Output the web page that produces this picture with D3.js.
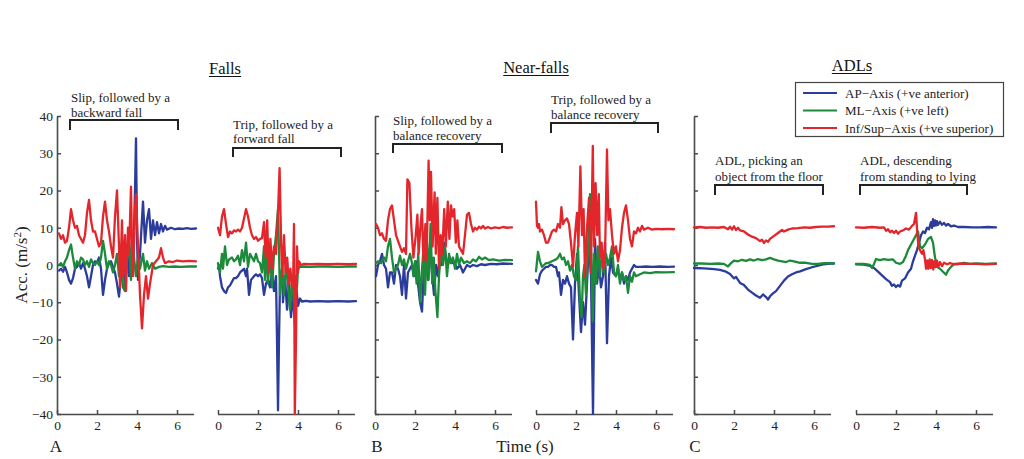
<!DOCTYPE html>
<html><head><meta charset="utf-8">
<script src="https://cdn.jsdelivr.net/npm/d3@7"></script>
<style>
body{margin:0;background:#fff;}
svg{display:block;}
text{font-family:"Liberation Serif","Times New Roman",serif;}
</style>
</head><body>
<svg id="c" width="1024" height="459"></svg>
<script>
// ---------- DATA ----------
const groupTitles = ["Falls", "Near-falls", "ADLs"];
const panelLetters = ["A", "B", "C"];
const seriesNames = ["AP\u2212Axis (+ve anterior)", "ML\u2212Axis (+ve left)", "Inf/Sup\u2212Axis (+ve superior)"];
const xTicks = [0, 2, 4, 6];
const yTicks = [-40, -30, -20, -10, 0, 10, 20, 30, 40];
const annotations = [
  ["Slip, followed by a", "backward fall"],
  ["Trip, followed by a", "forward fall"],
  ["Slip, followed by a", "balance recovery"],
  ["Trip, followed by a", "balance recovery"],
  ["ADL, picking an", "object from the floor"],
  ["ADL, descending", "from standing to lying"]
];

// Falls: slip -> backward fall  [time s, acc m/s^2]
const slipFallAP = [[0.1,-1.5],[0.2,-1],[0.3,-1.8],[0.4,-0.5],[0.5,-2],[0.6,-4],[0.7,-5],[0.8,-3.5],[0.9,-1],[1.0,-0.5],[1.1,0.5],[1.2,-1],[1.3,0.5],[1.4,-1],[1.5,-3],[1.6,-6],[1.7,-3],[1.8,0],[1.9,1],[2.0,0.5],[2.1,2],[2.2,-1],[2.3,-8],[2.4,-4],[2.5,-1],[2.6,0.5],[2.7,1],[2.8,-0.5],[2.9,-2],[3.0,-5],[3.1,-8.5],[3.2,-3],[3.3,2],[3.4,-6],[3.5,5],[3.6,-3],[3.7,4],[3.8,-2],[3.9,20],[3.95,34],[4.0,8],[4.05,-4],[4.15,3],[4.3,17],[4.4,6],[4.5,12],[4.6,15],[4.7,7],[4.8,12],[4.9,8],[5.0,11.5],[5.1,8.5],[5.2,11],[5.3,9],[5.4,10.5],[5.5,9.5],[5.7,10],[5.9,9.6],[6.1,9.8],[6.3,9.7],[6.5,9.9],[6.7,9.7],[6.95,9.8]];
const slipFallML = [[0.1,0],[0.2,0.5],[0.3,-0.5],[0.4,1],[0.5,2],[0.6,4],[0.7,5.5],[0.8,2],[0.9,-1],[1.0,1],[1.1,0],[1.2,2],[1.3,1.5],[1.4,0],[1.5,1],[1.6,-0.5],[1.7,1.5],[1.8,0.5],[1.9,0],[2.0,1],[2.1,0],[2.2,2],[2.3,6.5],[2.4,3],[2.5,-1],[2.6,1],[2.7,0],[2.8,-2],[2.9,0],[3.0,3],[3.1,-3],[3.2,4],[3.3,-6],[3.4,-7],[3.5,2],[3.6,6],[3.7,-4],[3.75,8],[3.85,2],[3.95,-3],[4.05,2],[4.15,-1],[4.3,3],[4.4,-1.5],[4.5,1],[4.6,-1],[4.75,0.5],[4.9,-1],[5.1,-0.5],[5.3,-0.3],[5.6,-0.5],[5.9,-0.4],[6.2,-0.5],[6.6,-0.4],[6.95,-0.4]];
const slipFallIS = [[0.1,8.5],[0.2,7],[0.3,8],[0.4,6],[0.5,6.5],[0.6,10],[0.7,15],[0.8,12],[0.9,10],[1.0,10.5],[1.1,8],[1.2,7],[1.3,6],[1.4,8],[1.5,14],[1.6,17.5],[1.7,12],[1.8,9],[1.9,9],[2.0,7],[2.1,5],[2.2,6],[2.3,13],[2.4,17],[2.5,12],[2.6,9],[2.7,5],[2.8,2],[2.9,13],[3.0,20],[3.1,5],[3.15,-6],[3.25,12],[3.3,-3],[3.4,8],[3.45,-7],[3.55,10],[3.6,3],[3.7,21],[3.75,5],[3.8,-3],[3.9,15],[3.95,19],[4.05,5],[4.15,-8],[4.25,-17],[4.35,-8],[4.45,-3],[4.55,-9],[4.65,-5],[4.8,0],[4.95,1],[5.1,2],[5.2,4.5],[5.3,2],[5.4,0.5],[5.6,1],[5.8,0.8],[6.0,1.2],[6.3,1],[6.6,1.1],[6.95,1]];

// Falls: trip -> forward fall
const tripFallAP = [[0,-1],[0.05,0],[0.1,-3],[0.2,-6],[0.3,-7],[0.4,-7.5],[0.5,-6],[0.6,-5.5],[0.7,-4.5],[0.8,-3.5],[0.9,-3.5],[1.0,-3],[1.1,-2],[1.2,-1.5],[1.3,-1],[1.4,-3],[1.45,-1],[1.55,-8],[1.65,-4],[1.8,-3],[1.9,-2.5],[2.0,-3],[2.1,-2.5],[2.2,-3.5],[2.3,-8],[2.4,-5],[2.5,-4],[2.6,-6],[2.7,-2],[2.8,-7],[2.9,-3],[2.95,-20],[3.0,-39],[3.05,-20],[3.1,-5],[3.2,-1],[3.25,-10],[3.35,-3],[3.45,-12],[3.55,-5],[3.65,-14],[3.75,-8],[3.85,-16],[3.9,-5],[4.0,-11],[4.1,-9],[4.2,-9.8],[4.4,-9.6],[4.6,-9.8],[5.0,-9.7],[5.5,-9.8],[6.0,-9.7],[6.5,-9.8],[6.9,-9.7]];
const tripFallML = [[0,0.5],[0.1,-2],[0.2,3],[0.25,-1],[0.35,5],[0.45,0],[0.55,1.5],[0.7,2],[0.8,1],[0.9,1.5],[1.0,2.5],[1.1,0],[1.2,4],[1.3,1],[1.4,6],[1.5,-0.5],[1.6,3],[1.7,2],[1.8,1],[1.9,3],[2.0,1],[2.1,0.5],[2.2,-2],[2.3,5],[2.35,-4],[2.45,5],[2.5,-5],[2.6,4],[2.7,-6],[2.8,3],[2.9,8],[3.0,15],[3.1,-8],[3.2,-1],[3.3,-8],[3.4,0],[3.5,-5],[3.6,-12],[3.7,-4],[3.8,-10],[3.9,-3],[3.95,-6],[4.0,-1],[4.1,-0.5],[4.3,-0.4],[4.6,-0.5],[5.0,-0.4],[5.5,-0.4],[6.0,-0.5],[6.5,-0.4],[6.9,-0.4]];
const tripFallIS = [[0,10],[0.1,8],[0.2,13],[0.3,15],[0.4,11],[0.5,7.5],[0.6,9],[0.7,8.5],[0.8,9.3],[0.9,9],[1.0,9.5],[1.1,9],[1.2,10],[1.3,12.5],[1.4,15],[1.5,13],[1.6,10],[1.7,8],[1.8,7],[1.9,7.5],[2.0,6.5],[2.1,7],[2.2,7.2],[2.3,11.5],[2.38,2],[2.46,12],[2.54,-2],[2.62,7],[2.7,-1],[2.8,5],[2.9,3],[3.0,14],[3.08,26],[3.16,5],[3.22,-3],[3.3,8],[3.38,-2],[3.46,2],[3.54,-5],[3.62,-1],[3.7,-6],[3.76,-3],[3.8,11],[3.84,-40],[3.9,-20],[3.95,5],[4.0,-2],[4.05,1],[4.15,0],[4.3,0.3],[4.6,0.2],[5.0,0.3],[5.5,0.2],[6.0,0.3],[6.5,0.2],[6.9,0.3]];

// Near-falls: slip -> balance recovery
const slipNearAP = [[0.05,-3],[0.15,0],[0.25,1],[0.35,3],[0.45,0],[0.55,-1],[0.65,-6],[0.75,-2],[0.85,-2],[0.95,-5],[1.05,0],[1.15,-1],[1.25,-3],[1.35,-8],[1.45,0],[1.55,-9],[1.65,-2],[1.75,-1],[1.85,0],[1.95,-3],[2.05,1],[2.15,-5],[2.25,-10],[2.35,-12.5],[2.45,0],[2.55,3],[2.65,-4],[2.75,5],[2.85,-2],[2.95,-8],[3.05,0],[3.15,-3],[3.25,3],[3.35,0],[3.45,6],[3.55,2],[3.65,0],[3.75,2],[3.85,0.5],[3.95,1],[4.1,-1],[4.25,0],[4.4,-2],[4.5,-1],[4.6,0],[4.75,-0.5],[4.9,0],[5.1,-0.3],[5.3,0.2],[5.5,0],[5.8,0.3],[6.1,0.2],[6.4,0.4],[6.85,0.3]];
const slipNearML = [[0.05,0.5],[0.15,1],[0.3,0.5],[0.45,2],[0.55,1],[0.65,5],[0.75,7],[0.85,2],[0.95,-2],[1.05,-1],[1.15,0],[1.25,2.5],[1.35,0],[1.45,1.5],[1.55,-1],[1.65,1],[1.75,3],[1.85,0.5],[1.92,-3],[2.0,1],[2.08,-5],[2.16,3],[2.26,-10],[2.34,-2],[2.42,4],[2.5,-8],[2.6,6],[2.68,-4],[2.78,11],[2.86,-5],[2.94,2],[3.02,-7],[3.12,-14],[3.2,-3],[3.3,4],[3.4,0],[3.5,5],[3.6,-3],[3.7,3],[3.8,0.5],[3.9,2],[4.0,-1],[4.1,3],[4.2,0],[4.3,2],[4.45,0.5],[4.6,1],[4.75,0.5],[4.9,1.5],[5.05,1],[5.2,2.2],[5.35,1.5],[5.5,2],[5.7,1.3],[5.9,1.5],[6.2,1.2],[6.5,1.4],[6.85,1.3]];
const slipNearIS = [[0.05,11],[0.15,10],[0.25,8],[0.35,8.5],[0.45,7],[0.55,6.5],[0.65,12],[0.75,15],[0.85,16],[0.95,12],[1.05,8],[1.15,6.5],[1.25,5],[1.35,3.5],[1.45,4.5],[1.55,3],[1.62,23],[1.72,22],[1.82,10],[1.92,2],[2.02,7],[2.12,13.5],[2.18,3],[2.28,11],[2.35,15],[2.42,1],[2.52,11],[2.58,1],[2.68,28],[2.74,12],[2.8,25],[2.88,5],[2.98,19.5],[3.04,3],[3.12,18],[3.2,-1],[3.28,8],[3.36,3],[3.46,15],[3.54,5],[3.64,17],[3.72,7],[3.8,16],[3.88,13],[3.96,15],[4.04,6],[4.12,12],[4.2,5],[4.3,4],[4.4,3],[4.5,8],[4.6,13.5],[4.7,14],[4.8,11],[4.9,9],[5.0,10],[5.1,9.5],[5.2,10.3],[5.3,9.8],[5.4,10.5],[5.5,9.8],[5.65,10.2],[5.8,9.8],[6.0,10.1],[6.2,9.9],[6.4,10.2],[6.6,10],[6.85,10.1]];

// Near-falls: trip -> balance recovery
const tripNearAP = [[0.0,-4],[0.1,-5],[0.2,-2.5],[0.3,-1.5],[0.4,-1],[0.5,-0.5],[0.6,-0.5],[0.7,0],[0.8,0],[0.9,-0.5],[1.0,-0.5],[1.1,-3],[1.15,-2],[1.25,-8],[1.35,-4],[1.45,-5],[1.55,-3],[1.65,-5],[1.75,-6],[1.85,-20],[1.95,-5],[2.05,3],[2.15,-8],[2.25,-18],[2.35,-10],[2.45,-16],[2.55,-5],[2.65,6],[2.75,-3],[2.85,-40],[2.95,7],[3.05,-5],[3.15,0],[3.25,-6],[3.35,-3],[3.45,6],[3.55,-21],[3.65,-3],[3.75,2],[3.85,-2],[4.0,-3],[4.1,-1],[4.2,-4],[4.3,-2],[4.4,-5],[4.5,-3],[4.6,-4],[4.7,-2],[4.8,-1],[4.9,0],[5.0,-0.5],[5.2,-0.5],[5.5,-0.4],[5.8,-0.5],[6.2,-0.4],[6.6,-0.5],[6.9,-0.45]];
const tripNearML = [[0.0,-1.7],[0.1,3.5],[0.2,1],[0.3,-0.5],[0.4,0],[0.5,0.5],[0.6,0.5],[0.8,1],[1.0,1.5],[1.1,2],[1.2,3],[1.3,1.5],[1.4,2],[1.5,0],[1.6,1],[1.7,-1.5],[1.8,0],[1.9,-3],[2.0,-4],[2.1,5],[2.2,-10],[2.28,-14],[2.35,-3],[2.42,0],[2.5,-8],[2.6,4],[2.7,19],[2.78,-2],[2.84,-15],[2.9,3],[3.0,-5],[3.1,5],[3.2,-3],[3.3,4],[3.4,-2],[3.5,3],[3.6,0],[3.7,2],[3.8,5],[3.9,-2],[4.0,-3],[4.1,0],[4.2,-5],[4.3,-2],[4.4,-4],[4.5,-3],[4.6,-7.5],[4.7,-3],[4.8,-4.5],[4.9,-2],[5.0,-3],[5.2,-2.5],[5.4,-2],[5.7,-2.2],[6.0,-1.9],[6.4,-2],[6.9,-1.9]];
const tripNearIS = [[0.0,17],[0.05,10.5],[0.1,10],[0.15,11],[0.2,9],[0.3,9.5],[0.4,8],[0.5,6],[0.6,6],[0.7,7.5],[0.8,9],[0.9,9.5],[1.0,9],[1.1,11],[1.2,10],[1.27,15.5],[1.35,11],[1.45,12],[1.55,12.5],[1.65,11],[1.75,6],[1.85,-0.5],[1.95,8],[2.05,14],[2.12,5],[2.22,26.5],[2.3,8],[2.38,15],[2.45,-3],[2.55,10],[2.65,18],[2.74,-2],[2.84,32],[2.9,5],[2.98,22],[3.06,8],[3.14,19],[3.2,2],[3.28,6],[3.36,-1],[3.45,2],[3.55,31],[3.62,12],[3.7,15],[3.8,8],[3.9,3],[4.0,5],[4.1,1],[4.2,4],[4.3,10],[4.4,14],[4.5,16],[4.6,12],[4.7,7],[4.8,5],[4.9,9],[5.0,8.5],[5.1,10],[5.2,9],[5.3,10.5],[5.4,9.5],[5.6,10],[5.8,9.5],[6.0,9.7],[6.3,9.6],[6.6,9.7],[6.9,9.6]];

// ADL: picking an object from the floor
const pickAP = [[0,-0.8],[0.5,-0.9],[1.0,-1.1],[1.3,-1.3],[1.6,-1.8],[1.8,-2.4],[2.0,-3.6],[2.1,-3.2],[2.3,-4.8],[2.5,-5.4],[2.7,-6.6],[2.9,-7.4],[3.1,-8.2],[3.3,-8.8],[3.45,-7.9],[3.6,-8.6],[3.7,-9.3],[3.8,-8.4],[3.95,-7.6],[4.1,-7],[4.3,-5.6],[4.5,-4.2],[4.7,-3.1],[4.9,-2.5],[5.1,-2],[5.3,-1.7],[5.6,-1.1],[5.9,-0.6],[6.2,-0.2],[6.5,0.2],[6.8,0.4],[7.0,0.4]];
const pickML = [[0,0.4],[0.4,0.4],[0.8,0.3],[1.2,0.4],[1.5,0.3],[1.7,-0.4],[1.85,0.5],[2.0,1.2],[2.2,1.0],[2.4,1.4],[2.6,1.1],[2.8,1.5],[3.0,1.2],[3.2,1.6],[3.4,1.3],[3.6,1.5],[3.8,1.9],[4.0,1.5],[4.2,1.2],[4.4,1.0],[4.6,0.8],[4.8,1.2],[5.0,1.0],[5.3,0.6],[5.6,0.6],[5.9,0.3],[6.2,0.3],[6.5,0.5],[7.0,0.4]];
const pickIS = [[0,10.1],[0.3,10.2],[0.6,10],[0.9,10.1],[1.2,10],[1.5,10.2],[1.7,9.6],[1.8,10.3],[1.9,9.5],[2.0,10.4],[2.1,9.4],[2.2,10],[2.3,9.3],[2.5,9],[2.7,8.2],[2.9,7.6],[3.1,7.2],[3.3,6.4],[3.4,6.8],[3.5,5.9],[3.6,6.6],[3.7,6.2],[3.8,7],[4.0,7.8],[4.2,8.6],[4.4,9.4],[4.5,9],[4.7,9.5],[4.9,9.8],[5.2,9.9],[5.5,10.1],[5.8,10],[6.1,10.2],[6.4,10.3],[6.7,10.3],[7.0,10.4]];

// ADL: descending from standing to lying
const lyingAP = [[0,0.2],[0.4,0.1],[0.7,-0.2],[0.9,-0.8],[1.1,-1.8],[1.3,-2.8],[1.5,-3.8],[1.7,-4.6],[1.8,-5.6],[1.9,-5.2],[2.0,-5.9],[2.1,-5.4],[2.2,-5.8],[2.3,-4.2],[2.45,-3.6],[2.6,-2],[2.75,-1],[2.85,1],[2.95,2.5],[3.05,4],[3.15,6],[3.25,8],[3.35,9],[3.45,8.6],[3.55,10],[3.65,9.6],[3.75,11.5],[3.8,10],[3.85,12.3],[3.9,10.5],[3.95,12],[4.0,10.6],[4.05,11.8],[4.1,10.8],[4.2,11.6],[4.3,10.8],[4.4,11.3],[4.5,10.6],[4.6,11],[4.75,10.4],[4.9,10.6],[5.1,10.2],[5.4,10.2],[5.8,10.1],[6.2,10.1],[6.6,10.2],[7.0,10.1]];
const lyingML = [[0,0.3],[0.4,0.3],[0.7,0],[0.8,-0.8],[0.9,0.3],[1.0,1.6],[1.2,1.3],[1.4,1.6],[1.6,1.4],[1.85,1.5],[2.0,0.6],[2.2,0.3],[2.35,0.8],[2.5,2.5],[2.6,4],[2.75,5.5],[2.9,7],[3.0,8],[3.1,9],[3.2,5],[3.3,4.5],[3.45,5.5],[3.6,7],[3.75,7.5],[3.85,6],[3.95,2],[4.05,-0.5],[4.2,-1],[4.35,-1.8],[4.5,-2.6],[4.6,-1.5],[4.75,-0.5],[4.9,0.3],[5.1,0.2],[5.4,0.6],[5.7,0.3],[6.0,0.4],[6.5,0.3],[7.0,0.4]];
const lyingIS = [[0,10.1],[0.4,10],[0.8,10.2],[1.2,10],[1.4,10.1],[1.5,9.2],[1.6,9.6],[1.7,8.8],[1.8,9.2],[1.9,8.6],[2.0,9.2],[2.1,8.4],[2.2,9],[2.35,9.3],[2.5,9.8],[2.65,9.5],[2.8,10.5],[2.9,11],[3.0,14],[3.06,9],[3.12,5],[3.2,4],[3.3,3],[3.37,4],[3.45,1.5],[3.5,-1],[3.56,1.2],[3.62,-1],[3.68,1.5],[3.74,-0.8],[3.8,1.4],[3.86,-1.2],[3.92,1],[3.98,-0.6],[4.05,1.2],[4.12,-0.5],[4.2,0.8],[4.3,-0.3],[4.4,0.6],[4.55,0.2],[4.7,0.5],[4.9,0.2],[5.2,0.4],[5.6,0.3],[6.0,0.3],[6.5,0.2],[7.0,0.3]];

const panelSeries = [
  [slipFallAP, slipFallML, slipFallIS],
  [tripFallAP, tripFallML, tripFallIS],
  [slipNearAP, slipNearML, slipNearIS],
  [tripNearAP, tripNearML, tripNearIS],
  [pickAP, pickML, pickIS],
  [lyingAP, lyingML, lyingIS]
];

// ---------- LAYOUT ----------
const colors = ["#2b3c9b", "#1d8a3b", "#e3262b"];
const serif = "'Liberation Serif','Times New Roman',serif";
const panelLeft = [57, 218, 375, 536, 694, 856];
const panelW = 140;
const axisEnd = 6.85;
const y = d3.scaleLinear().domain([-40, 40]).range([414, 116]);
const fmt = d => d < 0 ? "\u2212" + Math.abs(d) : String(d);
const axisColor = "#4a4a4a";

// annotation layout: [bracket start t, end t, bracket top px, leg bottom px, text x px, first baseline px, line gap px]
const annLayout = [
  [0.65, 6.05, 120, 130, 71, 101.5, 15],
  [0.75, 6.15, 148, 157, 233, 128.5, 14.5],
  [0.9, 6.35, 144, 153, 393, 124.5, 15],
  [0.75, 6.1, 123, 133, 551, 103.5, 15],
  [1.05, 6.45, 185, 195, 715, 164.5, 16.5],
  [0.2, 5.55, 185, 195, 860, 164.5, 16.5]
];

const svg = d3.select("#c");
svg.append("rect").attr("width", 1024).attr("height", 459).attr("fill", "#fff");

panelSeries.forEach((series, i) => {
  const x = d3.scaleLinear().domain([0, 7]).range([panelLeft[i], panelLeft[i] + panelW]);

  // x axis
  const gx = svg.append("g")
    .attr("transform", `translate(0,${y(-40)})`)
    .call(d3.axisBottom(x).tickValues(xTicks).tickSize(-4).tickSizeOuter(0).tickPadding(6).tickFormat(fmt));
  gx.select(".domain").remove();
  gx.attr("font-family", serif).attr("font-size", 13.5).style("color", axisColor);
  gx.selectAll(".tick line").attr("stroke-width", 1.5);
  gx.selectAll("text").attr("fill", "#222");
  gx.append("line").attr("x1", x(0)).attr("x2", x(axisEnd)).attr("y1", 0.5).attr("y2", 0.5)
    .attr("stroke", axisColor).attr("stroke-width", 1.6);

  // y axis on first panel of each group
  if (i % 2 === 0) {
    const gy = svg.append("g")
      .attr("transform", `translate(${x(0)},0)`)
      .call(d3.axisLeft(y).tickValues(yTicks).tickSize(-4).tickSizeOuter(0).tickPadding(4)
        .tickFormat(i === 0 ? fmt : () => ""));
    gy.attr("font-family", serif).attr("font-size", 13.5).style("color", axisColor);
    gy.select(".domain").attr("stroke-width", 1.6);
    gy.selectAll(".tick line").attr("stroke-width", 1.5);
    gy.selectAll("text").attr("fill", "#222");
  }

  // lines
  const line = d3.line().x(d => x(d[0])).y(d => y(d[1]));
  series.forEach((s, k) => {
    svg.append("path").datum(s).attr("d", line)
      .attr("fill", "none").attr("stroke", colors[k]).attr("stroke-width", 2.3)
      .attr("stroke-linejoin", "round").attr("stroke-linecap", "round");
  });

  // annotation bracket + text
  const [t0, t1, by, bl, tx, tb, gap] = annLayout[i];
  svg.append("path")
    .attr("d", `M${x(t0)},${bl}V${by}H${x(t1)}V${bl}`)
    .attr("fill", "none").attr("stroke", "#222").attr("stroke-width", 2);
  annotations[i].forEach((ln, j) => {
    svg.append("text").attr("x", tx).attr("y", tb + j * gap)
      .attr("font-size", 13).attr("fill", "#222").text(ln);
  });
});

// group titles (underlined)
const titlePos = [[225, 74], [536, 73], [852, 71]];
groupTitles.forEach((t, i) => {
  const tt = svg.append("text").attr("x", titlePos[i][0]).attr("y", titlePos[i][1])
    .attr("text-anchor", "middle").attr("font-size", 16.5).attr("fill", "#111").text(t);
  const w = tt.node().getComputedTextLength();
  svg.append("line").attr("x1", titlePos[i][0] - w / 2).attr("x2", titlePos[i][0] + w / 2)
    .attr("y1", titlePos[i][1] + 2.5).attr("y2", titlePos[i][1] + 2.5)
    .attr("stroke", "#111").attr("stroke-width", 1);
});

// panel letters
const letterX = [56, 377, 695];
panelLetters.forEach((l, i) => {
  svg.append("text").attr("x", letterX[i]).attr("y", 452).attr("text-anchor", "middle")
    .attr("font-size", 17).attr("fill", "#222").text(l);
});

// x axis title
svg.append("text").attr("x", 525).attr("y", 452).attr("text-anchor", "middle")
  .attr("font-size", 17).attr("fill", "#222").text("Time (s)");

// y axis title
const yl = svg.append("text").attr("transform", "translate(27,265) rotate(-90)")
  .attr("text-anchor", "middle").attr("font-size", 17).attr("fill", "#222");
yl.append("tspan").text("Acc. (m/s");
yl.append("tspan").attr("font-size", 11).attr("dy", -6).text("2");
yl.append("tspan").attr("dy", 6).text(")");

// legend
const lg = svg.append("g");
lg.append("rect").attr("x", 795.5).attr("y", 82.5).attr("width", 208).attr("height", 54)
  .attr("fill", "#fff").attr("stroke", "#444").attr("stroke-width", 1.2);
seriesNames.forEach((n, k) => {
  const yy = 93 + k * 17.5;
  lg.append("line").attr("x1", 803).attr("x2", 837).attr("y1", yy).attr("y2", yy)
    .attr("stroke", colors[k]).attr("stroke-width", 2);
  lg.append("text").attr("x", 845).attr("y", yy).attr("dy", "0.35em")
    .attr("font-size", 13).attr("fill", "#222").text(n);
});
</script>
</body></html>
